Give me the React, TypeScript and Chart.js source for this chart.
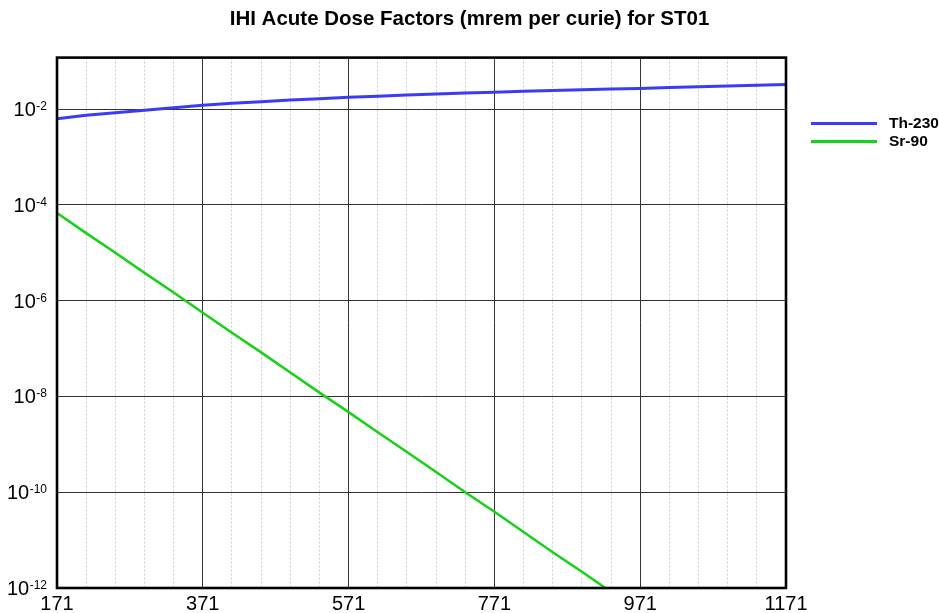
import React, { useEffect, useRef } from "react";
import { Chart, registerables } from "chart.js";

Chart.register(...registerables);

const TITLE = "IHI Acute Dose Factors (mrem per curie) for ST01";
const X_VALUES = [171, 211, 251, 291, 331, 371, 411, 451, 491, 531, 571, 611, 651, 691, 731, 771, 811, 851, 891, 931, 971, 1011, 1051, 1091, 1131, 1171];
const TH230 = [0.00628, 0.00739, 0.00837, 0.0094, 0.01064, 0.0120, 0.01315, 0.01427, 0.0154, 0.01647, 0.01754, 0.01858, 0.01958, 0.02055, 0.02156, 0.02251, 0.02339, 0.0243, 0.02526, 0.02612, 0.02701, 0.02807, 0.02917, 0.03031, 0.03149, 0.03273];
const SR90 = [6.76e-5, 2.57e-5, 1.0e-5, 3.8e-6, 1.48e-6, 5.6e-7, 2.14e-7, 8.3e-8, 3.16e-8, 1.2e-8, 4.7e-9, 1.78e-9, 6.9e-10, 2.63e-10, 1.0e-10, 3.9e-11, 1.48e-11, 5.6e-12, 2.19e-12, 8.3e-13];
const SERIES_NAMES = ["Th-230", "Sr-90"];
const SERIES_COLORS = ["#3b3bf6", "#16d216"];
const X_MAJOR_TICKS = [171, 371, 571, 771, 971, 1171];
const X_MINOR_TICKS = [211, 251, 291, 331, 411, 451, 491, 531, 611, 651, 691, 731, 811, 851, 891, 931, 1011, 1051, 1091, 1131];
const Y_TICK_EXPONENTS = [-12, -10, -8, -6, -4, -2];
const X_MIN = 171;
const X_MAX = 1171;
const Y_MIN = 1e-12;
const Y_MAX = 0.1186;

const FONT = "'Liberation Sans', Arial, sans-serif";

const framePlugin = {
  id: "frameAndLabels",
  afterDraw(chart: any) {
    const { ctx, chartArea } = chart;
    const yScale = chart.scales.y;
    ctx.save();
    ctx.strokeStyle = "#000";
    ctx.lineWidth = 2.6;
    ctx.strokeRect(chartArea.left, chartArea.top, chartArea.right - chartArea.left, chartArea.bottom - chartArea.top);
    ctx.fillStyle = "#000";
    ctx.textAlign = "right";
    ctx.textBaseline = "alphabetic";
    const rightX = chartArea.left - 10;
    Y_TICK_EXPONENTS.forEach((e) => {
      const y = yScale.getPixelForValue(Math.pow(10, e));
      const expText = String(e);
      ctx.font = `12px ${FONT}`;
      const w = ctx.measureText(expText).width;
      ctx.fillText(expText, rightX, y + 1);
      ctx.font = `20px ${FONT}`;
      ctx.fillText("10", rightX - w - 0.5, y + 7);
    });
    chart.data.datasets.forEach((ds: any, i: number) => {
      const y = chartArea.top + 66 + 18 * i;
      ctx.strokeStyle = ds.borderColor;
      ctx.lineWidth = 3;
      ctx.beginPath();
      ctx.moveTo(chartArea.right + 25, y);
      ctx.lineTo(chartArea.right + 91, y);
      ctx.stroke();
      ctx.fillStyle = "#000";
      ctx.textAlign = "left";
      ctx.textBaseline = "middle";
      ctx.font = `bold 15.5px ${FONT}`;
      ctx.fillText(ds.label, chartArea.right + 103, y + 0.5);
    });
    ctx.restore();
  },
};

export default function App() {
  const ref = useRef<HTMLCanvasElement | null>(null);
  useEffect(() => {
    document.body.style.margin = "0";
    const canvas = ref.current;
    if (!canvas) return;
    const chart = new Chart(canvas, {
      type: "line",
      data: {
        datasets: [
          {
            label: SERIES_NAMES[0],
            data: X_VALUES.map((x, i) => ({ x, y: TH230[i] })),
            borderColor: SERIES_COLORS[0],
            borderWidth: 3,
            pointRadius: 0,
            tension: 0,
            fill: false,
          },
          {
            label: SERIES_NAMES[1],
            data: SR90.map((y, i) => ({ x: X_VALUES[i], y })),
            borderColor: SERIES_COLORS[1],
            borderWidth: 2.5,
            pointRadius: 0,
            tension: 0,
            fill: false,
          },
        ],
      },
      options: {
        animation: false,
        responsive: false,
        devicePixelRatio: 1,
        layout: { padding: 0 },
        plugins: {
          legend: { display: false },
          tooltip: { enabled: false },
          title: {
            display: true,
            text: TITLE,
            color: "#000",
            font: { family: FONT, size: 20.5, weight: "bold" },
            padding: { top: 7.5, bottom: 25.5 },
            align: "center",
          },
        },
        scales: {
          x: {
            type: "linear",
            position: "bottom",
            min: X_MIN,
            max: X_MAX,
            afterBuildTicks: (s: any) => {
              s.ticks = X_MAJOR_TICKS.map((v) => ({ value: v }));
            },
            afterFit: (s: any) => {
              s.height = 25;
            },
            ticks: {
              autoSkip: false,
              maxRotation: 0,
              color: "#000",
              font: { family: FONT, size: 20 },
              padding: 4,
              callback: (v: any) => String(v),
            },
            grid: { color: "#333", lineWidth: 1, drawTicks: false },
            border: { display: false },
          },
          x2: {
            type: "linear",
            position: "bottom",
            min: X_MIN,
            max: X_MAX,
            afterBuildTicks: (s: any) => {
              s.ticks = X_MINOR_TICKS.map((v) => ({ value: v }));
            },
            afterFit: (s: any) => {
              s.height = 0;
            },
            ticks: { display: false },
            grid: { color: "#cdcdcd", lineWidth: 1, drawTicks: false },
            border: { display: false, dash: [2, 2] },
          },
          y: {
            type: "logarithmic",
            position: "left",
            min: Y_MIN,
            max: Y_MAX,
            afterBuildTicks: (s: any) => {
              s.ticks = Y_TICK_EXPONENTS.map((e) => ({ value: Math.pow(10, e) }));
            },
            afterFit: (s: any) => {
              s.width = 57;
            },
            ticks: { display: false },
            grid: { color: "#333", lineWidth: 1, drawTicks: false },
            border: { display: false },
          },
          yRight: {
            type: "linear",
            position: "right",
            afterFit: (s: any) => {
              s.width = 153;
            },
            ticks: { display: false },
            grid: { display: false, drawTicks: false },
            border: { display: false },
          },
        },
      },
      plugins: [framePlugin],
    } as any);
    return () => chart.destroy();
  }, []);
  return (
    <div style={{ width: 939, height: 613, background: "#fff" }}>
      <canvas ref={ref} width={939} height={613} />
    </div>
  );
}
